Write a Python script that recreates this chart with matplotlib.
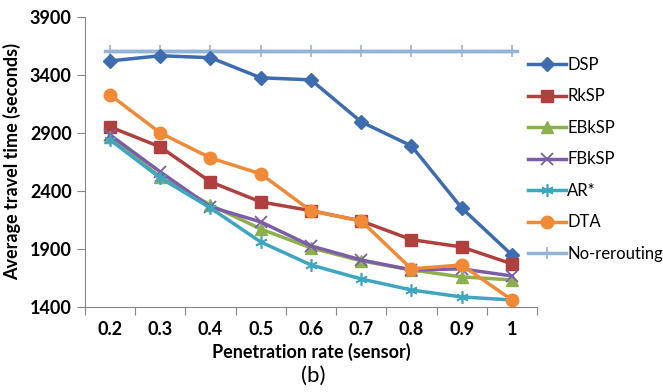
import numpy as np
import matplotlib.pyplot as plt

rates = ['0.2', '0.3', '0.4', '0.5', '0.6', '0.7', '0.8', '0.9', '1']
dsp = [3520, 3565, 3548, 3375, 3357, 2995, 2788, 2253, 1848]
rksp = [2952, 2779, 2478, 2305, 2230, 2141, 1980, 1917, 1771]
ebksp = [2866, 2521, 2279, 2072, 1909, 1797, 1719, 1659, 1633]
fbksp = [2883, 2564, 2262, 2133, 1926, 1805, 1719, 1728, 1667]
arstar = [2840, 2512, 2253, 1960, 1762, 1641, 1546, 1486, 1460]
dta = [3228, 2900, 2684, 2547, 2228, 2141, 1728, 1762, 1460]
norerouting = [3607] * 9

plt.rcParams['font.family'] = ['Lato', 'DejaVu Sans']

fig = plt.figure(figsize=(6.63, 3.92), dpi=100)
ax = fig.add_axes([0.128, 0.217, 0.682, 0.740])

x = np.arange(len(rates))
# no-rerouting line, slightly wider than the markers
ax.plot(np.r_[-0.1, x, 8.1], [norerouting[0]] + norerouting + [norerouting[0]],
        color='#95B3D7', lw=2.5, label='_nolegend_')
ax.plot(x, norerouting, color='#95B3D7', lw=2.5, marker='|', ms=9, mew=1.2)

ax.plot(x, dsp, color='#3D6DB0', lw=2.5, marker='D', ms=7, label='DSP')
ax.plot(x, rksp, color='#B0403E', lw=2.5, marker='s', ms=8, label='RkSP')
ax.plot(x, ebksp, color='#8DB04F', lw=2.5, marker='^', ms=8, label='EBkSP')
ax.plot(x, fbksp, color='#7B5EA7', lw=2.5, marker='x', ms=8, mew=1.3, label='FBkSP')
ax.plot(x, arstar, color='#3FA6C2', lw=2.5, marker=(6, 2, 0), ms=9, mew=1.2, label='AR*')
ax.plot(x, dta, color='#F08A36', lw=2.5, marker='o', ms=9, label='DTA')
ax.lines[1].set_label('No-rerouting')

# reorder legend: no-rerouting last
h, l = ax.get_legend_handles_labels()
order = [1, 2, 3, 4, 5, 6, 0]
ax.legend([h[i] for i in order], [l[i] for i in order],
          loc='upper left', bbox_to_anchor=(0.965, 0.885), frameon=False,
          fontsize=12, handlelength=2.3, handletextpad=0.05,
          labelspacing=0.93, borderaxespad=0)

ax.set_xlim(-0.5, 8.5)
ax.set_ylim(1400, 3900)
ax.set_yticks([1400, 1900, 2400, 2900, 3400, 3900])
ax.set_xticks(np.arange(-0.5, 9, 1))
ax.set_xticklabels([])
ax.set_xticks(x, minor=True)
ax.set_xticklabels(rates, minor=True)
ax.tick_params(axis='x', which='major', length=6, color='#868686', direction='out')
ax.tick_params(axis='x', which='minor', length=0, pad=10, labelsize=13)
ax.tick_params(axis='y', length=6, color='#868686', labelsize=13)
for t in ax.get_xticklabels(minor=True) + ax.get_yticklabels():
    t.set_fontweight('bold')

for s in ['top', 'right']:
    ax.spines[s].set_visible(False)
for s in ['left', 'bottom']:
    ax.spines[s].set_color('#868686')

ax.set_xlabel('Penetration rate (sensor)', fontsize=13, fontweight='bold', labelpad=4)
ax.set_ylabel('Average travel time (seconds)', fontsize=13, fontweight='bold', labelpad=6)
fig.text(0.472, 0.025, '(b)', fontsize=16, ha='center')

fig.savefig('out.png', dpi=100)
